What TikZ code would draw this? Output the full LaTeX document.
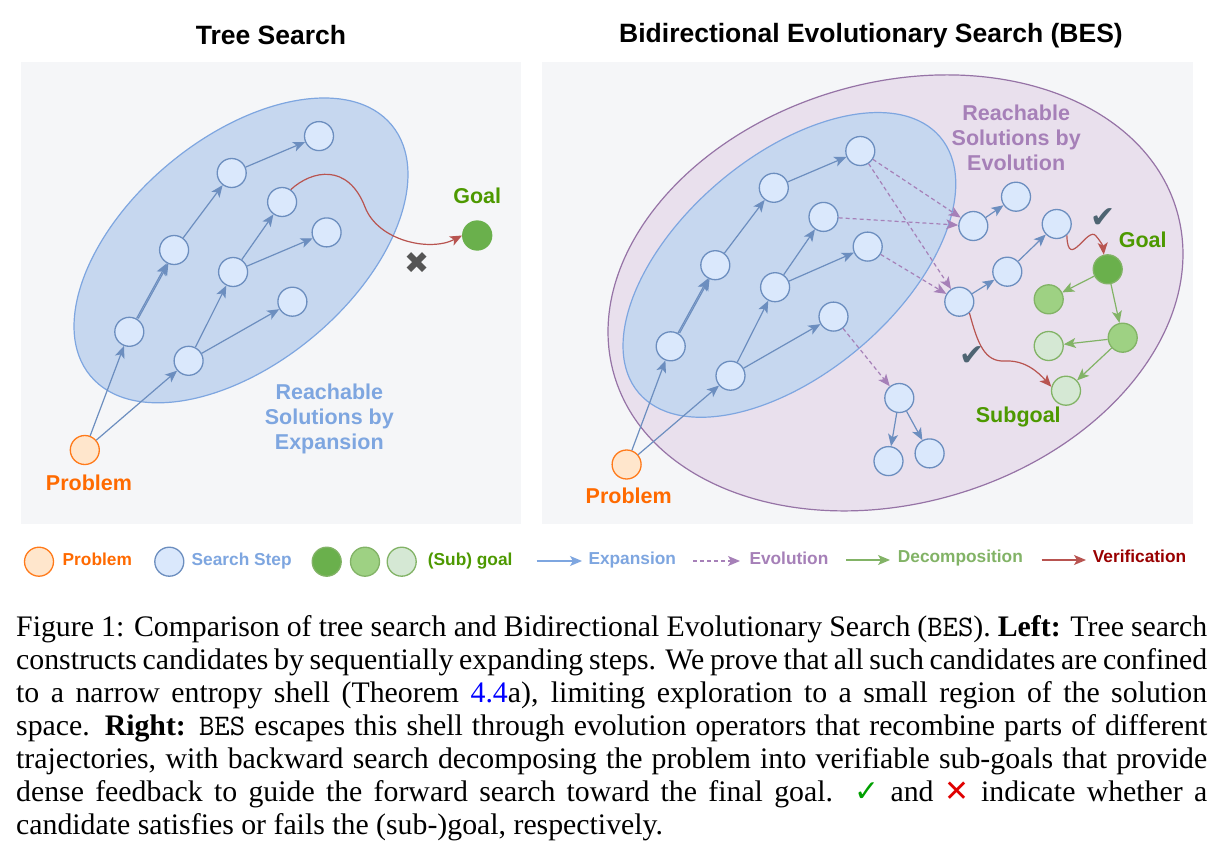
\documentclass[tikz,border=0pt]{standalone}
\usepackage{fontspec}
\setmainfont{Liberation Serif}
\setsansfont{Liberation Sans}
\newfontfamily\symbolfont{DejaVu Sans}
\usetikzlibrary{arrows.meta}

\definecolor{panelfill}{HTML}{F5F6F8}
\definecolor{stepfill}{HTML}{DAE8FC}
\definecolor{stepline}{HTML}{6C8EBF}
\definecolor{shellfill}{HTML}{C6D7EF}
\definecolor{shellline}{HTML}{7EA6E0}
\definecolor{evofill}{HTML}{E9E0ED}
\definecolor{evoline}{HTML}{9673A6}
\definecolor{evoarrow}{HTML}{A680B8}
\definecolor{probfill}{HTML}{FFE6CC}
\definecolor{probline}{HTML}{FF7A1A}
\definecolor{probtext}{HTML}{FF6A00}
\definecolor{goaldark}{HTML}{6AB04C}
\definecolor{goalmid}{HTML}{9ED183}
\definecolor{goallight}{HTML}{D5E8D4}
\definecolor{goalline}{HTML}{82B366}
\definecolor{goaltext}{HTML}{4D9900}
\definecolor{verifyline}{HTML}{B85450}
\definecolor{verifytext}{HTML}{990000}
\definecolor{checkgray}{HTML}{4E6472}
\definecolor{crossgray}{HTML}{555555}
\definecolor{linkblue}{HTML}{0000FF}
\definecolor{checkgreen}{HTML}{00A000}
\definecolor{crossred}{HTML}{E00000}

\begin{document}
\begin{tikzpicture}
[x=1pt,y=-1pt,
  stepdecorate/.style={shape=circle,minimum size=29pt,inner sep=0pt,draw=stepline,fill=stepfill,line width=1.3pt},%
  problemdecorate/.style={stepdecorate,draw=probline,fill=probfill},%
  goaldecorate/.style={stepdecorate,draw=goalline,fill=goaldark},%
  subgoaldecorate/.style={stepdecorate,draw=goalline,fill=goalmid},%
  leafgoaldecorate/.style={stepdecorate,draw=goalline,fill=goallight},%
  expanddecorate/.style={-{Stealth[length=12pt,width=10pt,inset=3pt]},draw=stepline,line width=1.2pt},%
  evolvedecorate/.style={-{Stealth[length=12pt,width=10pt,inset=3pt]},draw=evoarrow,line width=1.2pt,dash pattern=on 4pt off 3pt},%
  decompdecorate/.style={-{Stealth[length=12pt,width=10pt,inset=3pt]},draw=goalline,line width=1.2pt},%
  verifydecorate/.style={-{Stealth[length=12pt,width=10pt,inset=3pt]},draw=verifyline,line width=1.2pt},%
  titledecorate/.style={font=\sffamily\bfseries\fontsize{26.5}{30}\selectfont,inner sep=0pt},%
  labeldecorate/.style={font=\sffamily\bfseries\fontsize{21.5}{25.2}\selectfont,align=center,inner sep=0pt},%
  legenddecorate/.style={font=\sffamily\bfseries\fontsize{17.3}{20}\selectfont,anchor=west,inner sep=0pt,text height=0.72em,text depth=0pt},%
  markdecorate/.style={font=\symbolfont\fontsize{30}{30}\selectfont,inner sep=0pt}]
\useasboundingbox[fill=white] (0,0) rectangle (1219,857);

%% panels and titles
\fill[panelfill] (20.7,61.8) rectangle (521.4,523.6);
\fill[panelfill] (542,61.8) rectangle (1193,523.6);
\node[titledecorate] (lefttitle) at (271,35.5) {Tree Search};
\node[titledecorate] (righttitle) at (871,35.5) {Bidirectional Evolutionary Search (BES)};

%% reachable regions
\draw[fill=shellfill,draw=shellline,line width=1.2pt,rotate around={39.8:(241,250.4)}]
  (241,250.4) ellipse [x radius=196, y radius=112.6];
\draw[fill=evofill,draw=evoline,line width=1.2pt,rotate around={16.3:(895.5,292.9)}]
  (895.5,292.9) ellipse [x radius=293.1, y radius=210.3];
\draw[fill=shellfill,draw=shellline,line width=1.2pt,rotate around={40.3:(789.4,264.9)}]
  (789.4,264.9) ellipse [x radius=197.7, y radius=108.6];

%% left: tree search nodes
\node (lp) at (84.8,450) [problemdecorate] {};
\foreach \nodename/\x/\y in {la/129.3/331.8, lb/188.6/360.8, lc/174.1/250, ld/231.7/173,
  le/319/136.1, lf/233.1/272, lg/282.1/202, lh/326.6/232.4, li/292.4/301.7} {
  \node (\nodename) at (\x,\y) [stepdecorate] {};
}
\node (lgoal) at (477.2,235.5) [goaldecorate,draw=goaldark] {};

%% left: expansion edges
\path
\foreach \startnode/\endnode in {lp/la, lp/lb, la/lc, lc/ld, ld/le, lb/lf, lb/li, lf/lg, lf/lh} {
  (\startnode) edge[expanddecorate] (\endnode)
};
\draw[expanddecorate,transform canvas={xshift=1.6pt}] (la) -- (lc);
\draw[verifydecorate] (lg.55) .. controls (312,170) and (348,163) .. (365,207)
  .. controls (378,241) and (430,252) .. (lgoal.west);
\node[markdecorate,text=crossgray] (lcross) at (416.6,263.5) {✖};

%% left: labels
\node[labeldecorate,text=goaltext,text height=0.72em,text depth=0pt] (lgoaltext) at (477.2,200) {Goal};
\node[labeldecorate,text=probtext,text height=0.72em,text depth=0pt] (lptext) at (89,487) {Problem};
\node[labeldecorate,text=shellline] (lshelltext) at (329.3,419) {Reachable\\Solutions by\\Expansion};

%% right: forward search nodes
\node (rp) at (626.6,464.5) [problemdecorate] {};
\foreach \nodename/\x/\y in {ra/670.7/346.3, rb/730.5/375.7, rc/715.3/265.2, rd/773.8/187.8,
  re/860.3/151, rf/775.1/287.2, rg/823.5/216.9, rh/867.7/246.6, ri/833.5/316.6,
  ea/973.3/226, eb/1016/196.7, ec/959.3/301.7, ed/1007.3/271.7, ee/1056.7/224,
  ta/899.3/398, tb/888.5/461.1, tc/929.6/453.4} {
  \node (\nodename) at (\x,\y) [stepdecorate] {};
}

%% right: backward search nodes
\node (rgoal) at (1107.7,269.3) [goaldecorate] {};
\node (sa) at (1048.7,299.3) [subgoaldecorate] {};
\node (sb) at (1122.7,337.7) [subgoaldecorate] {};
\node (sc) at (1048.7,346) [leafgoaldecorate] {};
\node (sd) at (1066,390.7) [leafgoaldecorate] {};

%% right: edges
\path
\foreach \startnode/\endnode in {rp/ra, rp/rb, ra/rc, rc/rd, rd/re, rb/rf, rb/ri, rf/rg, rf/rh,
  ea/eb, ec/ed, ed/ee, ta/tb, ta/tc} {
  (\startnode) edge[expanddecorate] (\endnode)
};
\draw[expanddecorate,transform canvas={xshift=1.6pt}] (ra) -- (rc);
\path
\foreach \startnode/\endnode in {re/ea, rg/ea, re/ec, rh/ec, ri/ta} {
  (\startnode) edge[evolvedecorate] (\endnode)
};
\path
\foreach \startnode/\endnode in {rgoal/sa, rgoal/sb, sb/sc, sb/sd} {
  (\startnode) edge[decompdecorate] (\endnode)
};
\draw[verifydecorate] (ee.-48) .. controls (1068,272) and (1088,225) .. (1096,236)
  .. controls (1101,242) and (1103,246) .. (rgoal.105);
\draw[verifydecorate] (ec.-48) .. controls (978,345) and (985,362) .. (1005,361)
  .. controls (1025,360) and (1038,372) .. (sd.165);
\node[markdecorate,text=checkgray] (rchecka) at (1103.3,218.3) {✔};
\node[markdecorate,text=checkgray] (rcheckb) at (971.7,356) {✔};

%% right: labels
\node[labeldecorate,text=evoarrow] (revotext) at (1016.2,138) {Reachable\\Solutions by\\Evolution};
\node[labeldecorate,text=goaltext,text height=0.72em,text depth=0pt] (rgoaltext) at (1142.7,244) {Goal};
\node[labeldecorate,text=goaltext,text height=0.72em,text depth=0pt] (rsubtext) at (1018.3,419) {Subgoal};
\node[labeldecorate,text=probtext,text height=0.72em,text depth=0pt] (rptext) at (628.7,500) {Problem};

%% legend
\node (legprob) at (39,561.7) [problemdecorate] {};
\node[legenddecorate,text=probtext] (legprobtext) at (62.5,561.7) {Problem};
\node (legstep) at (169.3,561.7) [stepdecorate] {};
\node[legenddecorate,text=shellline] (legsteptext) at (191.5,561.7) {Search Step};
\node (leggoala) at (326.7,561.7) [goaldecorate] {};
\node (leggoalb) at (365,561.7) [subgoaldecorate] {};
\node (leggoalc) at (401.7,561.7) [leafgoaldecorate] {};
\node[legenddecorate,text=goaltext] (leggoaltext) at (427.7,561.7) {(Sub) goal};
\coordinate (legexpa) at (536.7,561);
\coordinate (legexpb) at (582,561);
\draw[expanddecorate,draw=shellline] (legexpa) -- (legexpb);
\node[legenddecorate,text=shellline] (legexptext) at (588.3,561.2) {Expansion};
\coordinate (legevoa) at (693.3,561);
\coordinate (legevob) at (740,561);
\draw[evolvedecorate] (legevoa) -- (legevob);
\node[legenddecorate,text=evoarrow] (legevotext) at (749.3,561.2) {Evolution};
\coordinate (legdeca) at (846,560);
\coordinate (legdecb) at (890,560);
\draw[decompdecorate] (legdeca) -- (legdecb);
\node[legenddecorate,text=goalline] (legdectext) at (897.7,559.2) {Decomposition};
\coordinate (legvera) at (1041.7,560);
\coordinate (legverb) at (1086,560);
\draw[verifydecorate] (legvera) -- (legverb);
\node[legenddecorate,text=verifytext] (legvertext) at (1092.7,559.2) {Verification};

%% caption
\node[anchor=base west,inner sep=0pt] (caption) at (16,636) {\parbox[t]{1191pt}{%
  \fontsize{29.8}{33}\selectfont
  \hbox to \linewidth{Figure 1: Comparison of tree search and Bidirectional Evolutionary Search (\texttt{BES}). \textbf{Left:} Tree search}
  \hbox to \linewidth{constructs candidates by sequentially expanding steps. We prove that all such candidates are confined}
  \hbox to \linewidth{to a narrow entropy shell (Theorem \textcolor{linkblue}{4.4}a), limiting exploration to a small region of the solution}
  \hbox to \linewidth{space. \textbf{Right:} \texttt{BES} escapes this shell through evolution operators that recombine parts of different}
  \hbox to \linewidth{trajectories, with backward search decomposing the problem into verifiable sub-goals that provide}
  \hbox to \linewidth{dense feedback to guide the forward search toward the final goal. \textcolor{checkgreen}{\symbolfont ✓} and \textcolor{crossred}{\symbolfont ✕} indicate whether a}
  \hbox{candidate satisfies or fails the (sub-)goal, respectively.}}};
\end{tikzpicture}
\end{document}
